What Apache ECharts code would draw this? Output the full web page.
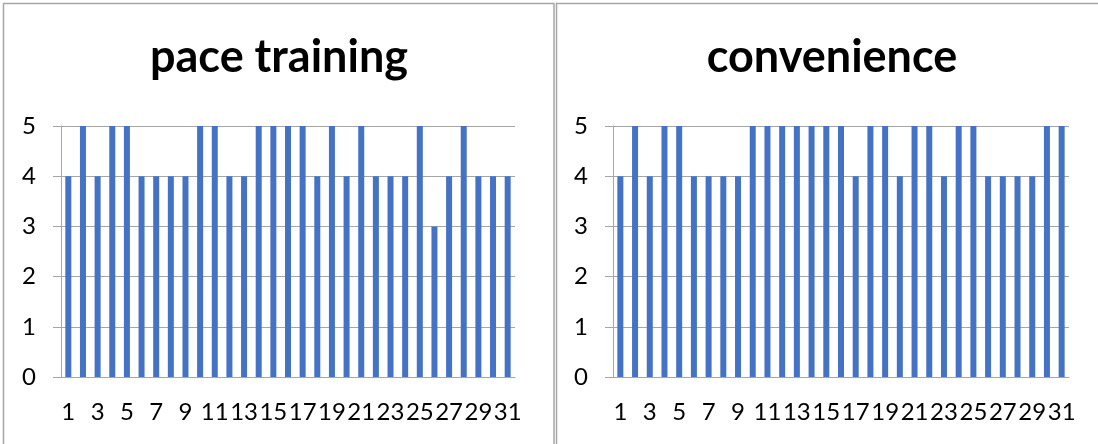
<!DOCTYPE html>
<html>
<head>
<meta charset="utf-8">
<script src="https://cdn.jsdelivr.net/npm/echarts@6/dist/echarts.min.js"></script>
<style>
  html, body { margin: 0; padding: 0; background: #ffffff; }
  #chart { width: 1098px; height: 444px; }
</style>
</head>
<body>
<div id="chart"></div>
<script>
const days = ['1', '2', '3', '4', '5', '6', '7', '8', '9', '10', '11', '12', '13', '14', '15', '16',
  '17', '18', '19', '20', '21', '22', '23', '24', '25', '26', '27', '28', '29', '30', '31']
const paceTraining = [4, 5, 4, 5, 5, 4, 4, 4, 4, 5, 5, 4, 4, 5, 5, 5,
  5, 4, 5, 4, 5, 4, 4, 4, 5, 3, 4, 5, 4, 4, 4]
const convenience = [4, 5, 4, 5, 5, 4, 4, 4, 4, 5, 5, 5, 5, 5, 5, 5,
  4, 5, 5, 4, 5, 5, 4, 5, 5, 4, 4, 4, 4, 5, 5]
const titles = ['pace training', 'convenience']
const yTicks = [0, 1, 2, 3, 4, 5]

const lineColor = '#a6a6a6'
const barColor = '#4472c4'
const font = 'Lato, "Open Sans", sans-serif'

const chart = echarts.init(document.getElementById('chart'))

const grids = [
  { left: 61, top: 126, width: 454, height: 251 },
  { left: 613, top: 126, width: 456, height: 251 },
]

const makeX = (gridIndex) => ({
  type: 'category',
  gridIndex,
  data: days,
  axisLine: { lineStyle: { color: lineColor, width: 1 } },
  axisTick: { interval: 0, length: 8, lineStyle: { color: lineColor } },
  axisLabel: {
    interval: 1,
    margin: 23,
    color: '#000',
    fontFamily: font,
    fontSize: 24,
  },
})

const makeY = (gridIndex) => ({
  type: 'value',
  gridIndex,
  min: yTicks[0],
  max: yTicks[yTicks.length - 1],
  interval: 1,
  axisLine: { show: true, lineStyle: { color: lineColor } },
  axisTick: { show: true, length: 8, lineStyle: { color: lineColor } },
  splitLine: { lineStyle: { color: lineColor } },
  axisLabel: {
    margin: 25,
    color: '#000',
    fontFamily: font,
    fontSize: 24,
  },
})

chart.setOption({
  backgroundColor: '#ffffff',
  animation: false,
  title: titles.map((text, i) => ({
    text,
    left: i === 0 ? 279 : 832,
    top: 35,
    textAlign: 'center',
    padding: 0,
    textStyle: {
      fontFamily: font,
      fontWeight: 'bold',
      fontSize: 45,
      color: '#000',
    },
  })),
  grid: grids,
  xAxis: [makeX(0), makeX(1)],
  yAxis: [makeY(0), makeY(1)],
  series: [
    {
      type: 'bar',
      xAxisIndex: 0,
      yAxisIndex: 0,
      data: paceTraining,
      barWidth: 6,
      itemStyle: { color: barColor },
    },
    {
      type: 'bar',
      xAxisIndex: 1,
      yAxisIndex: 1,
      data: convenience,
      barWidth: 6,
      itemStyle: { color: barColor },
    },
  ],
  graphic: [
    {
      type: 'rect',
      shape: { x: 3.5, y: 3.5, width: 550.5, height: 460 },
      style: { fill: 'none', stroke: lineColor, lineWidth: 1.5 },
      silent: true,
    },
    {
      type: 'rect',
      shape: { x: 556.5, y: 3.5, width: 560, height: 460 },
      style: { fill: 'none', stroke: lineColor, lineWidth: 1.5 },
      silent: true,
    },
  ],
})
</script>
</body>
</html>
